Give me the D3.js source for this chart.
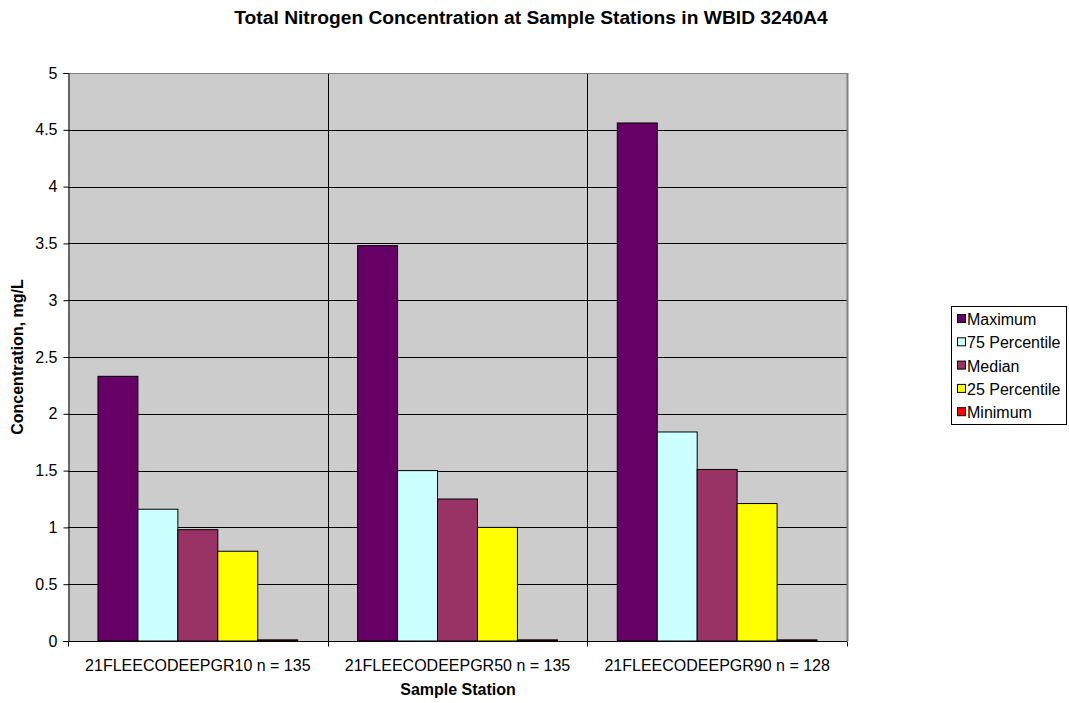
<!DOCTYPE html>
<html><head><meta charset="utf-8">
<script src="https://cdn.jsdelivr.net/npm/d3@7"></script>
<style>body{margin:0;background:#fff;} svg{display:block;font-family:"Liberation Sans",Arial,sans-serif;}</style>
</head><body>
<svg id="c" width="1069" height="703"></svg>
<script>
const categories = ["21FLEECODEEPGR10 n = 135", "21FLEECODEEPGR50 n = 135", "21FLEECODEEPGR90 n = 128"];
const seriesNames = ["Maximum", "75 Percentile", "Median", "25 Percentile", "Minimum"];
const seriesColors = ["#660066", "#CCFFFF", "#993366", "#FFFF00", "#FF0000"];
const maximum = [2.33, 3.48, 4.56];
const p75 = [1.16, 1.50, 1.84];
const median = [0.98, 1.25, 1.51];
const p25 = [0.79, 1.00, 1.21];
const minimum = [0.01, 0.01, 0.01];
const yTicks = [0, 0.5, 1, 1.5, 2, 2.5, 3, 3.5, 4, 4.5, 5];
const seriesValues = [maximum, p75, median, p25, minimum];

const svg = d3.select("#c");
const FS = 16;
const L = 68, R = 847, T = 73, B = 641;
const x = d3.scaleBand().domain(categories).range([L, R]).paddingInner(0).paddingOuter(0);
const gap = 30 * x.bandwidth() / 260;
const xsub = d3.scaleBand().domain(seriesNames).range([gap, x.bandwidth() - gap]).padding(0);
const y = d3.scaleLinear().domain([0, 5]).range([B, T]);

svg.append("rect").attr("x", L).attr("y", T).attr("width", R - L).attr("height", B - T).attr("fill", "#CCCCCC");

// gridlines
svg.append("g").selectAll("line").data(yTicks.filter(d => d > 0 && d < 5)).join("line")
  .attr("x1", L).attr("x2", R).attr("y1", d => Math.round(y(d)) + 0.5).attr("y2", d => Math.round(y(d)) + 0.5)
  .attr("stroke", "#000").attr("stroke-width", 1);
// vertical category separators
svg.append("g").selectAll("line").data(categories.slice(1)).join("line")
  .attr("x1", d => Math.round(x(d)) + 0.5).attr("x2", d => Math.round(x(d)) + 0.5)
  .attr("y1", T).attr("y2", B).attr("stroke", "#000");
// right & top border
svg.append("line").attr("x1", R + 0.5).attr("x2", R + 0.5).attr("y1", T).attr("y2", B).attr("stroke", "#808080").attr("stroke-width", 2);
svg.append("line").attr("x1", L).attr("x2", R).attr("y1", T + 0.5).attr("y2", T + 0.5).attr("stroke", "#808080");

// bars
const data = [];
categories.forEach((c, i) => seriesNames.forEach((s, j) => data.push({c, s, v: seriesValues[j][i], col: seriesColors[j]})));
svg.append("g").selectAll("rect").data(data).join("rect")
  .attr("x", d => x(d.c) + xsub(d.s))
  .attr("y", d => y(d.v))
  .attr("width", xsub.bandwidth())
  .attr("height", d => y(0) - y(d.v))
  .attr("fill", d => d.col)
  .attr("stroke", "#000").attr("stroke-width", 1);

// axes
const yAxis = d3.axisLeft(y).tickValues(yTicks).tickFormat(d3.format("")).tickSize(5).tickPadding(6);
const gy = svg.append("g").attr("transform", `translate(${L + 0.5},0)`).call(yAxis);
gy.selectAll("text").attr("font-size", FS).attr("fill", "#000").attr("font-family", "Liberation Sans, Arial, sans-serif");
gy.selectAll("line,path").attr("stroke", "#000");

const gx = svg.append("g").attr("transform", `translate(0,${B + 0.5})`);
gx.append("line").attr("x1", L).attr("x2", R).attr("stroke", "#000");
gx.selectAll("line.t").data([...categories.map(c => x(c)), R]).join("line").attr("class", "t")
  .attr("x1", d => Math.round(d) + 0.5).attr("x2", d => Math.round(d) + 0.5).attr("y1", 0).attr("y2", 5).attr("stroke", "#000");
gx.selectAll("text").data(categories).join("text")
  .attr("x", d => x(d) + x.bandwidth() / 2).attr("y", 29.5)
  .attr("text-anchor", "middle").attr("font-size", FS).text(d => d);

// titles
const title = svg.append("text").attr("x", 531).attr("y", 24).attr("text-anchor", "middle").attr("font-size", 13).attr("font-weight", "bold")
  .text("Total Nitrogen Concentration at Sample Stations in WBID 3240A4");
const tw = title.node().getComputedTextLength();
title.attr("font-size", 13 * 594 / tw);
svg.append("text").attr("x", 458).attr("y", 695).attr("text-anchor", "middle").attr("font-size", FS).attr("font-weight", "bold")
  .text("Sample Station");
svg.append("text").attr("transform", `translate(23,${(T + B) / 2}) rotate(-90)`).attr("text-anchor", "middle")
  .attr("font-size", FS).attr("font-weight", "bold").text("Concentration, mg/L");

// legend
const lg = svg.append("g");
lg.append("rect").attr("x", 951.5).attr("y", 306.5).attr("width", 115).attr("height", 118).attr("fill", "#fff").attr("stroke", "#000");
seriesNames.forEach((s, i) => {
  const yy = 319 + i * 23.3;
  lg.append("rect").attr("x", 957.5).attr("y", yy - 4.5).attr("width", 8).attr("height", 8).attr("fill", seriesColors[i]).attr("stroke", "#000");
  lg.append("text").attr("x", 967).attr("y", yy + 6).attr("font-size", FS).text(s);
});
</script>
</body></html>
